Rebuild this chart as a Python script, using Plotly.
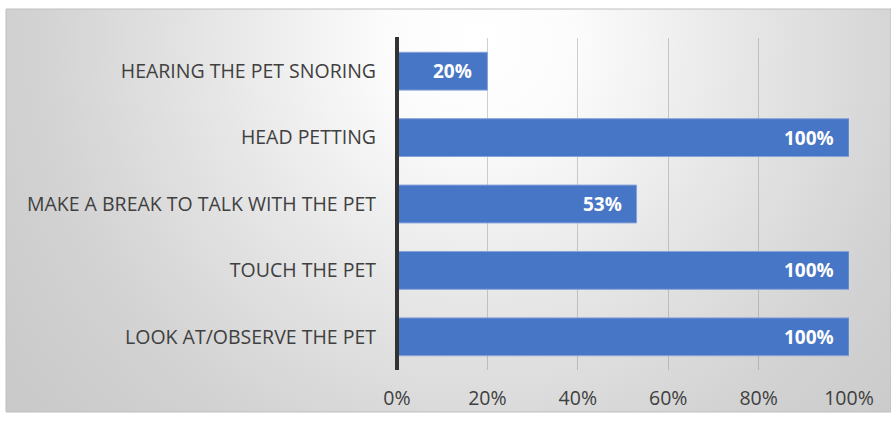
import base64
import plotly.graph_objects as go

categories = ["LOOK AT/OBSERVE THE PET", "TOUCH THE PET", "MAKE A BREAK TO TALK WITH THE PET",
              "HEAD PETTING", "HEARING THE PET SNORING"]
values = [1.00, 1.00, 0.53, 1.00, 0.20]
x_ticks = [0, 0.2, 0.4, 0.6, 0.8, 1.0]
x_tick_labels = ["0%", "20%", "40%", "60%", "80%", "100%"]

W, H = 891, 422
L, R, T, B = 397, 42, 38, 52
pw, ph = W - L - R, H - T - B

FONT = "Open Sans"
FS = 19.5

# frame of the chart area in pixels
fx0, fy0, fx1, fy1 = 6, 9, 891, 412

svg = f'''<svg xmlns="http://www.w3.org/2000/svg" width="{fx1-fx0}" height="{fy1-fy0}">
<defs><radialGradient id="g" gradientUnits="userSpaceOnUse" cx="474" cy="31" r="620">
<stop offset="0" stop-color="#ffffff"/>
<stop offset="0.15" stop-color="#fcfcfc"/>
<stop offset="0.42" stop-color="#e7e7e7"/>
<stop offset="0.69" stop-color="#d4d4d4"/>
<stop offset="0.79" stop-color="#cfcfcf"/>
<stop offset="1" stop-color="#c8c8c8"/>
</radialGradient></defs>
<rect x="0" y="0" width="{fx1-fx0}" height="{fy1-fy0}" fill="url(#g)"/>
</svg>'''
uri = "data:image/svg+xml;base64," + base64.b64encode(svg.encode()).decode()

def px2x(px):
    return (px - L) / pw

def py2y(py):
    return (H - B - py) / ph

fig = go.Figure()
fig.add_trace(go.Bar(
    y=categories, x=values, orientation="h",
    marker=dict(color="#4876C6", line=dict(color="#85a3da", width=1)),
    width=0.57, hoverinfo="skip", textposition="none",
))

for c, v in zip(categories, values):
    fig.add_annotation(x=v, y=c, xref="x", yref="y", text=f"<b>{round(v*100)}%</b>",
                       showarrow=False, xanchor="right", xshift=-13,
                       font=dict(color="white", size=19, family=FONT))

fig.add_layout_image(dict(
    source=uri, xref="paper", yref="paper",
    x=px2x(fx0), y=py2y(fy0), sizex=px2x(fx1) - px2x(fx0), sizey=py2y(fy0) - py2y(fy1),
    xanchor="left", yanchor="top", sizing="stretch", layer="below",
))
fig.add_shape(type="rect", xref="paper", yref="paper",
              x0=px2x(fx0), x1=px2x(fx1), y0=py2y(fy1), y1=py2y(fy0),
              line=dict(color="#bfbfbf", width=1), fillcolor="rgba(0,0,0,0)", layer="below")
# value axis line at 0 (left edge of plot area; paper refs so it is not clipped)
fig.add_shape(type="line", xref="paper", yref="paper", x0=0, x1=0, y0=0, y1=1.003,
              line=dict(color="#333333", width=4), layer="above")

fig.update_layout(
    width=W, height=H, margin=dict(l=L, r=R, t=T, b=B),
    paper_bgcolor="white", plot_bgcolor="rgba(0,0,0,0)",
    showlegend=False, bargap=0.43,
    font=dict(family=FONT, size=FS, color="#404040"),
    xaxis=dict(range=[0, 1.0], tickvals=x_ticks, ticktext=x_tick_labels,
               showgrid=True, gridcolor="rgba(120,120,120,0.35)", gridwidth=1,
               zeroline=False, showline=False, ticks="", layer="above traces",
               ticklabelstandoff=14, tickfont=dict(size=FS, color="#404040"), fixedrange=True),
    yaxis=dict(categoryorder="array", categoryarray=categories, showgrid=False,
               zeroline=False, showline=False, ticks="", ticklabelstandoff=20,
               tickfont=dict(size=FS, color="#404040"), fixedrange=True),
)
fig.write_html("out.html", config={"displayModeBar": False},
               post_script="document.body.style.margin='0';")
